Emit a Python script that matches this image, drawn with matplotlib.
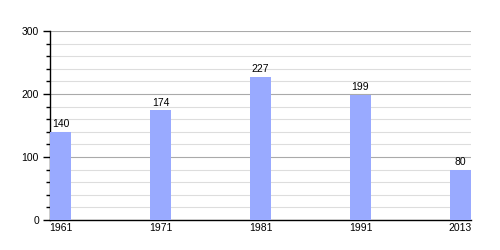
import matplotlib
matplotlib.use("Agg")
import matplotlib.pyplot as plt
from matplotlib.ticker import MultipleLocator

plt.rcParams["font.family"] = ["Liberation Sans", "DejaVu Sans"]

years = ["1961", "1971", "1981", "1991", "2013"]
population = [140, 174, 227, 199, 80]

fig = plt.figure(figsize=(5, 2.5), dpi=100)
ax = fig.add_axes([0.1, 0.12, 0.842, 0.756])

x = list(range(len(years)))
ax.bar(x, population, width=0.21, color="#99aaff", zorder=3)
for xi, v in zip(x, population):
    ax.text(xi, v + 4, str(v), ha="center", va="bottom", fontsize=7.5, color="black")

ax.set_xlim(-0.105, 4.105)
ax.set_ylim(0, 300)
ax.set_xticks(x)
ax.set_xticklabels(years, fontsize=7.5)
ax.tick_params(axis="x", length=0, pad=2)
ax.yaxis.set_major_locator(MultipleLocator(100))
ax.yaxis.set_minor_locator(MultipleLocator(20))
ax.tick_params(axis="y", which="major", length=5, width=1, labelsize=7.5, pad=3)
ax.tick_params(axis="y", which="minor", length=3, width=1)
ax.grid(axis="y", which="major", color="#aaaaaa", linewidth=0.8, zorder=0)
ax.grid(axis="y", which="minor", color="#dddddd", linewidth=0.8, zorder=0)
for s in ["top", "right"]:
    ax.spines[s].set_visible(False)
ax.spines["left"].set_linewidth(1)
ax.spines["bottom"].set_linewidth(1)
ax.set_axisbelow(True)

fig.savefig("out.png", dpi=100)
